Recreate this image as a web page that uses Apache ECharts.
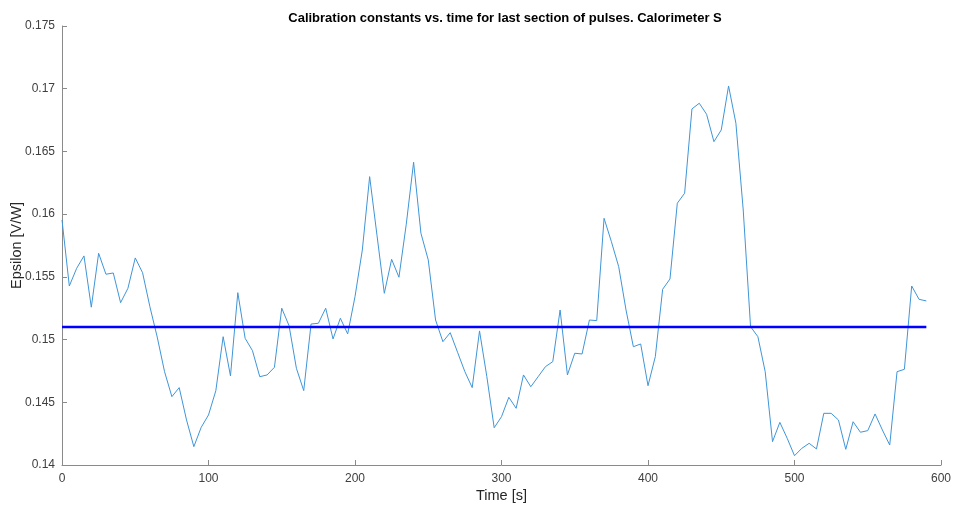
<!DOCTYPE html>
<html>
<head>
<meta charset="utf-8">
<script src="https://cdn.jsdelivr.net/npm/echarts@6/dist/echarts.min.js"></script>
<style>
  html, body { margin: 0; padding: 0; background: #fff; }
  #chart { width: 954px; height: 507px; }
</style>
</head>
<body>
<div id="chart"></div>
<script>
// Sample times (s), one pulse every 5 s
const times = [];
for (let t = 0; t <= 590; t += 5) times.push(t);

// Calibration constant per pulse [V/W]
const epsilon = [
  0.15954, 0.15427, 0.15568, 0.15667, 0.15258, 0.15688, 0.15521, 0.15531, 0.15294, 0.15409,
  0.15651, 0.15533, 0.15262, 0.15020, 0.14744, 0.14545, 0.14617, 0.14359, 0.14146, 0.14300,
  0.14399, 0.14592, 0.15023, 0.14710, 0.15374, 0.15010, 0.14912, 0.14704, 0.14718, 0.14779,
  0.15250, 0.15110, 0.14771, 0.14593, 0.15124, 0.15130, 0.15250, 0.15005, 0.15170, 0.15045,
  0.15342, 0.15714, 0.16299, 0.15832, 0.15369, 0.15640, 0.15497, 0.15920, 0.16414, 0.15848,
  0.15635, 0.15156, 0.14983, 0.15055, 0.14899, 0.14744, 0.14617, 0.15069, 0.14704, 0.14297,
  0.14385, 0.14540, 0.14452, 0.14718, 0.14624, 0.14704, 0.14784, 0.14824, 0.15236, 0.14718,
  0.14891, 0.14885, 0.15156, 0.15151, 0.15967, 0.15781, 0.15581, 0.15236, 0.14943, 0.14965,
  0.14632, 0.14864, 0.15401, 0.15483, 0.16087, 0.16167, 0.16839, 0.16884, 0.16796, 0.16578,
  0.16671, 0.17022, 0.16725, 0.16033, 0.15103, 0.15023, 0.14744, 0.14186, 0.14340, 0.14213,
  0.14074, 0.14133, 0.14173, 0.14128, 0.14412, 0.14412, 0.14359, 0.14125, 0.14345, 0.14261,
  0.14274, 0.14407, 0.14279, 0.14159, 0.14744, 0.14763, 0.15427, 0.15321, 0.15308
];

// Mean calibration constant over the section
const meanTimes = [0, 590];
const meanEpsilon = [0.1510, 0.1510];

// Axis ticks
const xTicks = [0, 100, 200, 300, 400, 500, 600];
const yTicks = [0.14, 0.145, 0.15, 0.155, 0.16, 0.165, 0.17, 0.175];

const chart = echarts.init(document.getElementById('chart'), null, { renderer: 'canvas' });

const axisGrey = '#8a8a8a';
const labelGrey = '#404040';
const font = '"Liberation Sans", Arial, sans-serif';

chart.setOption({
  animation: false,
  title: {
    text: 'Calibration constants vs. time for last section of pulses. Calorimeter S',
    left: 500,
    textAlign: 'center',
    top: 7,
    textStyle: { fontFamily: font, fontSize: 13, fontWeight: 'bold', color: '#000' }
  },
  grid: {
    left: 62, right: 13, top: 26, bottom: 42,
    containLabel: false,
    outerBoundsMode: 'none'
  },
  xAxis: {
    type: 'value',
    min: xTicks[0],
    max: xTicks[xTicks.length - 1],
    interval: 100,
    name: 'Time [s]',
    nameLocation: 'middle',
    nameGap: 23,
    nameMoveOverlap: false,
    nameTextStyle: { fontFamily: font, fontSize: 14.5, color: '#262626' },
    axisLine: { show: true, lineStyle: { color: axisGrey, width: 1 } },
    axisTick: { show: true, inside: true, length: 5, lineStyle: { color: axisGrey } },
    axisLabel: { fontFamily: font, fontSize: 12, color: labelGrey, margin: 8 },
    splitLine: { show: false }
  },
  yAxis: {
    type: 'value',
    min: yTicks[0],
    max: yTicks[yTicks.length - 1],
    interval: 0.005,
    name: 'Epsilon [V/W]',
    nameLocation: 'middle',
    nameGap: 38,
    nameMoveOverlap: false,
    nameRotate: 90,
    nameTextStyle: { fontFamily: font, fontSize: 14.5, color: '#262626' },
    axisLine: { show: true, lineStyle: { color: axisGrey, width: 1 } },
    axisTick: { show: true, inside: true, length: 5, lineStyle: { color: axisGrey } },
    axisLabel: {
      fontFamily: font, fontSize: 12, color: labelGrey, margin: 7,
      formatter: v => String(parseFloat(v.toFixed(3)))
    },
    splitLine: { show: false }
  },
  series: [
    {
      name: 'epsilon',
      type: 'line',
      data: times.map((t, i) => [t, epsilon[i]]),
      symbol: 'none',
      lineStyle: { color: '#3f95d8', width: 1 },
      z: 2
    },
    {
      name: 'mean',
      type: 'line',
      data: meanTimes.map((t, i) => [t, meanEpsilon[i]]),
      symbol: 'none',
      lineStyle: { color: '#0000ff', width: 2.5 },
      z: 3
    }
  ]
});
</script>
</body>
</html>
